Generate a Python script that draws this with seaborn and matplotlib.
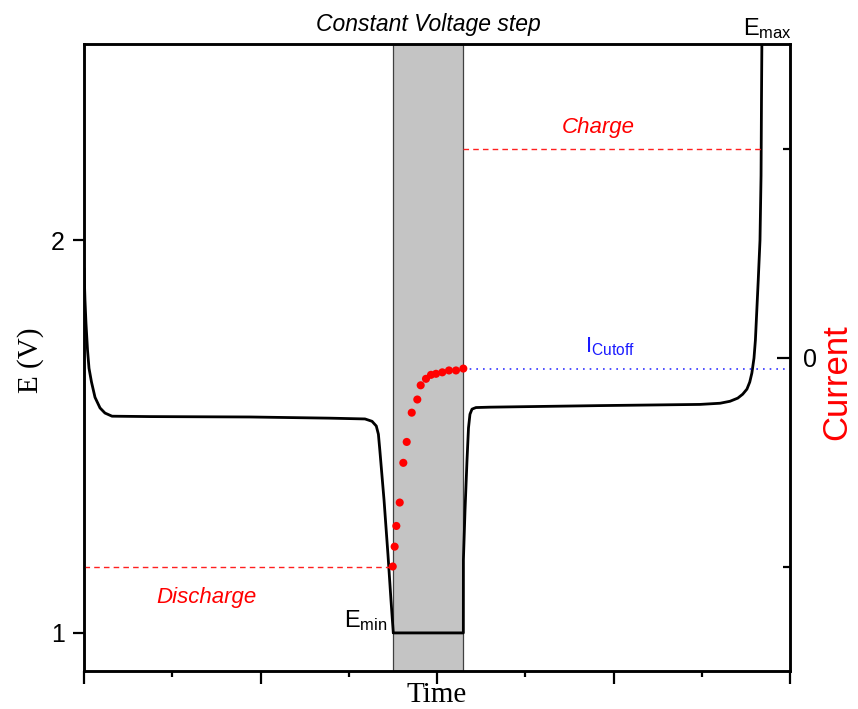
import numpy as np
import pandas as pd
import matplotlib
matplotlib.use("Agg")
import matplotlib.pyplot as plt
from matplotlib.ticker import FixedLocator, NullFormatter
import seaborn as sns

# ---- potential profile E(t) in volts ----
time_e = [0.0, 0.14, 0.28, 0.5, 0.71, 1.06, 1.56, 2.27, 2.97, 3.97, 9.35, 23.5,
          34.8, 39.8, 40.8, 41.4, 41.7, 41.9, 42.5, 43.06, 43.48, 43.81,
          53.73, 53.74, 53.97, 54.25, 54.46, 54.67, 54.96, 55.52, 57.5, 73.1,
          87.25, 90.1, 91.5, 92.6, 93.3, 93.9, 94.3, 94.6, 94.9, 95.1, 95.3,
          95.5, 95.75, 95.9, 95.96, 96.03]
potential = [1.929, 1.847, 1.789, 1.72, 1.674, 1.639, 1.60, 1.573, 1.560, 1.552,
             1.551, 1.550, 1.547, 1.545, 1.539, 1.527, 1.506, 1.466, 1.338, 1.198,
             1.084, 1.0, 1.0, 1.186, 1.313, 1.44, 1.522, 1.557, 1.570, 1.574,
             1.575, 1.579, 1.582, 1.585, 1.590, 1.598, 1.608, 1.621, 1.639, 1.662,
             1.700, 1.746, 1.822, 1.898, 2.0, 2.165, 2.356, 2.534]

# ---- current decay during the constant voltage step ----
time_i = [43.73, 44.0, 44.24, 44.72, 45.23, 45.71, 46.42, 47.21, 47.69, 48.44,
          49.15, 49.86, 50.75, 51.70, 52.69, 53.73]
current = [-1.0, -0.905, -0.806, -0.694, -0.504, -0.404, -0.264, -0.201, -0.133,
           -0.102, -0.083, -0.078, -0.071, -0.062, -0.062, -0.053]

# ---- step boundaries and reference current levels ----
cv_start, cv_end = 43.8, 53.73
discharge_end = 43.73
charge_end = 96.0
i_discharge, i_charge, i_cutoff = -1.0, 1.0, -0.053
e_min = 1.0

df_e = pd.DataFrame({"t": time_e, "E": potential})
df_i = pd.DataFrame({"t": time_i, "I": current})

sns.set_theme(style="ticks")
plt.rcParams["font.family"] = ["Liberation Sans", "DejaVu Sans"]
plt.rcParams["mathtext.default"] = "regular"
for key in ("text.color", "axes.labelcolor", "xtick.color", "ytick.color",
            "axes.edgecolor"):
    plt.rcParams[key] = "black"
SERIF = ["Liberation Serif", "DejaVu Serif"]

fig = plt.figure(figsize=(8.58, 7.09), dpi=100)
ax = fig.add_axes([84 / 858, 1 - 671 / 709, 706 / 858, 627 / 709])
ax2 = ax.twinx()

# shaded constant-voltage window
ax.axvspan(cv_start, cv_end, facecolor="#c4c4c4", edgecolor="#404040",
           linewidth=0.9, zorder=0)

sns.lineplot(data=df_e, x="t", y="E", ax=ax, color="black", linewidth=2.0,
             sort=False, estimator=None, zorder=3)
ax.plot([cv_start, cv_end], [e_min, e_min], color="black", linewidth=1.5, zorder=3)

ax.set_xlim(0, 100)
ax.set_ylim(0.903, 2.5)
ax2.set_ylim(-1.5, 1.5)

# reference current levels on the right axis
ax2.plot([0, discharge_end], [i_discharge, i_discharge], color="#ff2020",
         linestyle=(0, (4, 3)), linewidth=1.0)
ax2.plot([cv_end, charge_end], [i_charge, i_charge], color="#ff2020",
         linestyle=(0, (4, 3)), linewidth=1.0)
ax2.plot([cv_end, 100], [i_cutoff, i_cutoff], color="#3333ff",
         linestyle=(0, (1, 3)), linewidth=1.2)

sns.scatterplot(data=df_i, x="t", y="I", ax=ax2, color="red", s=34,
                edgecolor="none", zorder=4)

# axes styling
for a in (ax, ax2):
    for sp in a.spines.values():
        sp.set_linewidth(1.8)
        sp.set_color("black")

ax.set_yticks([1, 2])
ax.set_yticklabels(["1", "2"])
ax.tick_params(axis="y", direction="out", length=8, width=1.6, labelsize=18, pad=6)
ax.xaxis.set_major_locator(FixedLocator([0, 25, 50, 75, 100]))
ax.xaxis.set_minor_locator(FixedLocator([12.5, 37.5, 62.5, 87.5]))
ax.xaxis.set_major_formatter(NullFormatter())
ax.tick_params(axis="x", which="major", direction="out", length=9, width=1.6)
ax.tick_params(axis="x", which="minor", direction="out", length=4, width=1.6)

ax2.set_yticks([0])
ax2.set_yticklabels(["0"])
ax2.yaxis.set_minor_locator(FixedLocator([-1, 1]))
ax2.tick_params(axis="y", which="major", direction="in", length=9.5, width=1.6,
                labelsize=18, pad=9)
ax2.tick_params(axis="y", which="minor", direction="in", length=5, width=1.6)

ax.set_xlabel("Time", family=SERIF, fontsize=21)
ax.xaxis.set_label_coords(0.5, -0.018)
ax.set_ylabel("E (V)", family=SERIF, fontsize=21)
ax.yaxis.set_label_coords(-0.057, 0.496)
ax2.set_ylabel("Current", color="red", fontsize=25)
ax2.yaxis.set_label_coords(1.0425, 0.461)

# annotations
ax.text((cv_start + cv_end) / 2, 1.012, "Constant Voltage step",
        transform=ax.get_xaxis_transform(), ha="center", va="bottom",
        fontsize=16.5, style="italic")
ax.text(93.3, 1.005, "E$_{max}$", transform=ax.get_xaxis_transform(),
        ha="left", va="bottom", fontsize=17)
ax.text(43.0, e_min, "E$_{min}$", ha="right", va="bottom", fontsize=17)
ax2.text(72.9, 1.05, "Charge", color="red", fontsize=16, style="italic",
         ha="center", va="bottom")
ax2.text(17.4, -1.10, "Discharge", color="red", fontsize=16, style="italic",
         ha="center", va="top")
ax2.text(70.9, 0.0, "I$_{Cutoff}$", color="#1a1aff", fontsize=16, ha="left",
         va="bottom")

fig.savefig("out.png", dpi=100)
